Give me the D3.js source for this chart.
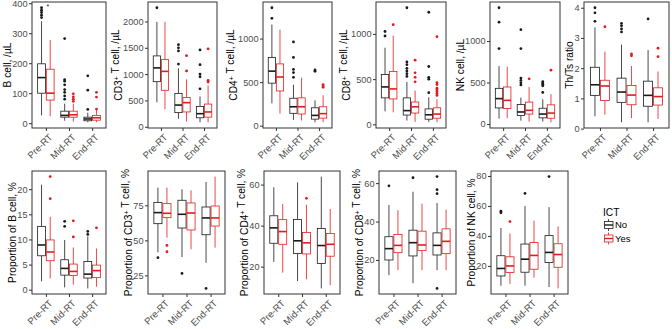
<!DOCTYPE html>
<html>
<head>
<meta charset="utf-8">
<script src="https://cdn.jsdelivr.net/npm/d3@7"></script>
<style>
  body { margin: 0; background: #fff; }
  svg { display: block; font-family: "Liberation Sans", Arial, sans-serif; }
</style>
</head>
<body>
<svg id="chart" width="672" height="329"></svg>
<script>
// Kategórie -------------------------------------------------------------
const timepoints = ["Pre-RT", "Mid-RT", "End-RT"];
const ictLevels = ["No", "Yes"];

// Boxy: [dolný fúz, Q1, medián, Q3, horný fúz]
// poradie: Pre No, Pre Yes, Mid No, Mid Yes, End No, End Yes
const bCellCount = [[26,100,152,198,340],[23,77,100,180,277],[8,20,26,40,65],[5,20,28,40,65],[3,8,14,20,35],[3,10,18,26,44]];
const bCellCountOut = [[385,377,369,360,352],[],[282,145,140,128,112,103,91,80],[98,88,80,73],[158,110,46],[103,87,47]];

const cd3Count = [[464,856,1118,1346,1993],[333,693,1052,1275,1993],[150,268,412,634,1110],[98,281,458,556,900],[85,170,248,386,575],[85,183,281,431,784]];
const cd3CountOut = [[2261],[],[1560,1500,1440,1190],[1350,1060],[1460,1180,1000,950,720],[1480,880,850]];

const cd4Count = [[256,488,626,783,1161],[138,398,559,709,1102],[67,142,217,315,470],[59,134,217,319,551],[39,75,118,205,291],[39,87,138,217,350]];
const cd4CountOut = [[1354,1232],[],[961,783,646,610,555],[],[640,625],[472,455,440]];

const cd8Count = [[144,293,414,551,848],[133,281,392,586,981],[42,103,152,293,470],[27,125,194,247,373],[27,57,106,171,300],[23,68,114,183,278]];
const cd8CountOut = [[1027,977],[1103],[1290,690,660,620,590,560,530],[710,570,520,470],[1240,640,520,500,350],[970,460,440,400,380,360,340,320]];

const nkCount = [[66,194,306,430,698],[70,186,285,446,690],[41,103,145,236,318],[29,120,165,264,446],[29,74,120,190,298],[21,70,132,231,360]];
const nkCountOut = [[1401,1227,909],[],[1136,909,554,525,496,471],[545],[510,495,480,460,380],[649]];

const thTsRatio = [[0.41,1.10,1.45,2.03,3.35],[0.46,0.93,1.41,1.60,2.55],[0.21,0.87,1.21,1.67,2.78],[0.35,0.79,1.11,1.43,2.07],[0.21,0.74,1.10,1.57,2.60],[0.32,0.78,1.06,1.35,1.89]];
const thTsRatioOut = [[4.0,3.83,3.55],[3.37],[3.48,3.40,3.30,3.20],[2.47,2.41],[3.63],[2.66,2.38]];

const bCellPct = [[1.66,6.75,8.9,12.6,20.9],[2.25,5.76,7.5,9.9,14.5],[0.46,2.9,4.24,5.96,9.9],[1.0,2.85,3.64,5.1,8.4],[0.26,2.32,3.1,5.63,10.6],[0.6,2.4,3.8,4.9,8.2]];
const bCellPctOut = [[],[22.5,18.1],[13.6,12.6],[13.7,10.5],[11.6,11.0],[12.3]];

const cd3Pct = [[41.4,61.9,69.8,77.1,87.6],[51.9,66.2,69.3,76.2,87.6],[38.1,58.8,68.6,78.6,86.4],[43.6,57.4,69.5,76.7,85.7],[34,54,66,73.8,91.7],[44.8,60.2,66,74.5,95.5]];
const cd3PctOut = [[37.6],[46.4,41.9],[26.4],[],[15.7],[]];

const cd4Pct = [[22.3,31.4,38.9,44.8,58.7],[17.1,30.9,37.1,42.9,50.5],[13,26.4,32.6,43,61.1],[13.8,26.2,31.6,36.7,50.2],[9.4,21.5,30.3,38.6,63.9],[11,25.1,30.9,36.2,48.1]];
const cd4PctOut = [[],[],[],[53.3],[],[]];

const cd8Pct = [[12.1,20,25.9,32.1,48.6],[14.7,23.8,27.6,33.3,45.9],[7.9,22.1,29,35.5,55.5],[14.7,25,27.8,35,49.3],[14.7,22.6,27.6,34.1,49.7],[14.7,23.3,29.7,36.2,46.2]];
const cd8PctOut = [[58.6],[],[62.8],[],[63.4,56.6,54.5,5.2],[]];

const nkPct = [[6.8,13.3,18.3,26.8,45.3],[8,15.6,20,26.1,41.7],[6.8,15.8,24.5,34.6,59.9],[12.2,17.8,27,35.7,50.2],[5.9,22.3,29,40.2,59.2],[5,19.1,27.6,34.8,46.4]];
const nkPctOut = [[56.5,55.4],[49.6],[68.4],[],[79.6],[]];

// Popisky osí a tick hodnoty
const panelTitles = [
  "B cell, /µL", "CD3^+ T cell, /µL", "CD4^+ T cell, /µL", "CD8^+ T cell, /µL", "NK cell, /µL", "Th/Ts ratio",
  "Proportion of B cell, %", "Proportion of CD3^+ T cell, %", "Proportion of CD4^+ T cell, %",
  "Proportion of CD8^+ T cell, %", "Proportion of NK cell, %"
];
const panelTicks = [
  [0,100,200,300,400], [0,500,1000,1500,2000], [0,500,1000], [0,500,1000], [0,500,1000], [0,1,2,3,4],
  [0,5,10,15,20], [25,50,75], [20,40,60], [20,40,60], [20,40,60,80]
];
const panelStats = [bCellCount, cd3Count, cd4Count, cd8Count, nkCount, thTsRatio, bCellPct, cd3Pct, cd4Pct, cd8Pct, nkPct];
const panelOutliers = [bCellCountOut, cd3CountOut, cd4CountOut, cd8CountOut, nkCountOut, thTsRatioOut, bCellPctOut, cd3PctOut, cd4PctOut, cd8PctOut, nkPctOut];
// ------------------------------------------------------------

// Rozloženie panelov [x0, x1, y0, y1]
const panelRects = [
  [32,106,2,128], [148,217,2,128], [263,332,2,128], [376,446,2,128], [490,560,2,128], [584,669,2,128],
  [32,106,171,294], [148,225,171,294], [264,340,171,294], [379,456,171,294], [491,568,171,294]
];

const colors = { No: "#1a1a1a", Yes: "#e41a1c" };
const fontFam = "'Liberation Sans', Arial, sans-serif";
const svg = d3.select("#chart");

// Text so superskriptom "^+"
function setTitle(sel, str) {
  const parts = str.split("^+");
  parts.forEach((p, i) => {
    sel.append("tspan").text(p);
    if (i < parts.length - 1) {
      sel.append("tspan").attr("dy", "-0.4em").attr("font-size", "0.7em").text("+");
      sel.append("tspan").attr("dy", "0.4em").text("");
    }
  });
}

panelStats.forEach((stats, pi) => {
  const [x0, x1, y0, y1] = panelRects[pi];
  const outs = panelOutliers[pi];
  const g = svg.append("g");

  const x = d3.scalePoint().domain(timepoints).range([x0, x1]).padding(0.6);
  const step = x.step();
  const ext = d3.extent(stats.flat().concat(outs.flat()));
  const pad = (ext[1] - ext[0]) * 0.05;
  const y = d3.scaleLinear().domain([ext[0] - pad, ext[1] + pad]).range([y1, y0]);

  const boxW = step * 0.3375;
  const rows = stats.map((s, i) => ({
    t: timepoints[Math.floor(i / 2)], ict: ictLevels[i % 2], s, out: outs[i]
  }));
  const cx = d => x(d.t) + (d.ict === "No" ? -1 : 1) * step * 0.1875;

  const box = g.selectAll("g.box").data(rows).join("g")
    .attr("stroke", d => colors[d.ict]).attr("fill", "none");
  box.append("line").attr("x1", cx).attr("x2", cx)
    .attr("y1", d => y(d.s[0])).attr("y2", d => y(d.s[1])).attr("stroke-width", 0.8);
  box.append("line").attr("x1", cx).attr("x2", cx)
    .attr("y1", d => y(d.s[3])).attr("y2", d => y(d.s[4])).attr("stroke-width", 0.8);
  box.append("rect")
    .attr("x", d => cx(d) - boxW / 2).attr("width", boxW)
    .attr("y", d => y(d.s[3])).attr("height", d => y(d.s[1]) - y(d.s[3]))
    .attr("fill", "#fff").attr("stroke-width", 0.8);
  box.append("line")
    .attr("x1", d => cx(d) - boxW / 2).attr("x2", d => cx(d) + boxW / 2)
    .attr("y1", d => y(d.s[2])).attr("y2", d => y(d.s[2])).attr("stroke-width", 1.6);
  box.selectAll("circle").data(d => d.out.map(v => ({ v, d }))).join("circle")
    .attr("cx", o => cx(o.d)).attr("cy", o => y(o.v)).attr("r", 1.4)
    .attr("fill", o => colors[o.d.ict]).attr("stroke", "none");

  // rámik panelu
  g.append("rect").attr("x", x0).attr("y", y0).attr("width", x1 - x0).attr("height", y1 - y0)
    .attr("fill", "none").attr("stroke", "#333").attr("stroke-width", 1);

  // os Y
  const ay = g.append("g").attr("transform", `translate(${x0},0)`)
    .call(d3.axisLeft(y).tickValues(panelTicks[pi]).tickFormat(d => String(d)).tickSize(3).tickPadding(1.5));
  ay.select(".domain").remove();
  ay.selectAll("line").attr("stroke", "#333");
  ay.selectAll("text").attr("fill", "#4d4d4d").attr("font-size", 9.2).attr("font-family", fontFam);

  // os X
  const ax = g.append("g").attr("transform", `translate(0,${y1})`)
    .call(d3.axisBottom(x).tickSize(3));
  ax.select(".domain").remove();
  ax.selectAll("line").attr("stroke", "#333");
  ax.selectAll("text").attr("fill", "#4d4d4d").attr("font-size", 9.5).attr("font-family", fontFam)
    .attr("text-anchor", "end").attr("y", 0).attr("dy", "0.71em")
    .attr("transform", "translate(2,5) rotate(-45)");

  // názov osi Y: vľavo od najširšieho popisku
  let labW = 0;
  ay.selectAll("text").each(function () { labW = Math.max(labW, this.getComputedTextLength()); });
  const t = g.append("text")
    .attr("transform", `translate(${x0 - 4.5 - labW - 1.5},${(y0 + y1) / 2}) rotate(-90)`)
    .attr("text-anchor", "middle").attr("font-size", 10.2).attr("fill", "#000");
  setTitle(t, panelTitles[pi]);
});

// hviezdička nad Pre-RT (B cell)
{
  const [x0, x1, y0] = panelRects[0];
  const x = d3.scalePoint().domain(timepoints).range([x0, x1]).padding(0.6);
  svg.append("text").attr("x", x(timepoints[0]) + 0.5).attr("y", y0 + 7)
    .attr("font-size", 7).attr("fill", "#1a1a1a").text("*");
}

// Legenda
const leg = svg.append("g").attr("transform", "translate(603,216)");
leg.append("text").attr("font-size", 10.2).attr("fill", "#000").text("ICT");
ictLevels.forEach((lv, i) => {
  const k = leg.append("g").attr("transform", `translate(0,${9 + i * 13.5})`)
    .attr("stroke", colors[lv]).attr("fill", "none");
  k.append("line").attr("x1", 5.5).attr("x2", 5.5).attr("y1", -6).attr("y2", 6).attr("stroke-width", 0.8);
  k.append("rect").attr("x", 1.5).attr("y", -3.5).attr("width", 8.5).attr("height", 7)
    .attr("fill", "#fff").attr("stroke-width", 0.8);
  k.append("line").attr("x1", 1.5).attr("x2", 10).attr("y1", 0).attr("y2", 0).attr("stroke-width", 1.4);
  leg.append("text").attr("x", 12).attr("y", 9 + i * 13.5).attr("dy", "0.35em")
    .attr("font-size", 9.5).attr("fill", "#000").text(lv);
});
</script>
</body>
</html>
